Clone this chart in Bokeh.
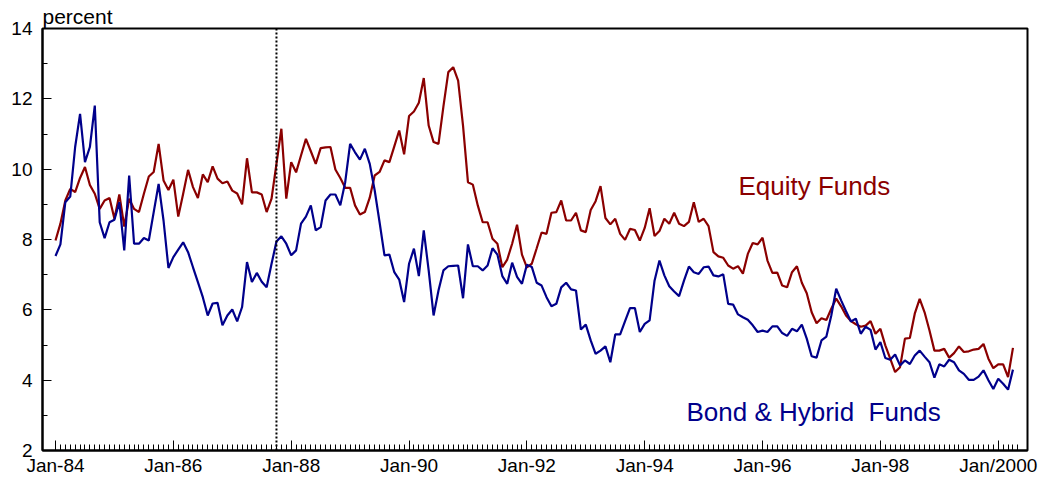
import numpy as np
from bokeh.plotting import figure
from bokeh.models import FixedTicker, Range1d, Span, Label
from bokeh.embed import file_html
from bokeh.resources import INLINE

# Monthly series, Jan-1984 onward (percent)
equity_funds = [
    7.97, 8.45, 9.11, 9.44, 9.35, 9.75, 10.06, 9.55, 9.30, 8.87, 9.11, 9.18,
    8.59, 9.28, 8.37, 9.16, 8.87, 8.78, 9.30, 9.79, 9.92, 10.72, 9.68, 9.41,
    9.70, 8.65, 9.30, 9.98, 9.49, 9.18, 9.85, 9.63, 10.08, 9.73, 9.60, 9.65,
    9.39, 9.31, 9.00, 10.31, 9.34, 9.34, 9.28, 8.78, 9.16, 10.15, 11.15, 9.16,
    10.20, 9.91, 10.39, 10.86, 10.51, 10.15, 10.60, 10.62, 10.63, 9.99, 9.75, 9.47,
    9.47, 8.97, 8.71, 8.78, 9.19, 9.82, 9.92, 10.25, 10.20, 10.65, 11.10, 10.42,
    11.51, 11.64, 11.89, 12.59, 11.24, 10.77, 10.72, 11.78, 12.76, 12.90, 12.52, 11.23,
    9.63, 9.56, 8.97, 8.49, 8.49, 8.02, 7.88, 7.21, 7.43, 7.88, 8.42, 7.57,
    7.21, 7.31, 7.75, 8.20, 8.16, 8.76, 8.78, 9.11, 8.54, 8.54, 8.76, 8.26,
    8.21, 8.84, 9.09, 9.52, 8.61, 8.43, 8.59, 8.16, 7.99, 8.30, 8.27, 7.97,
    8.33, 8.89, 8.10, 8.24, 8.59, 8.45, 8.76, 8.45, 8.38, 8.50, 9.06, 8.50,
    8.59, 8.38, 7.64, 7.52, 7.48, 7.26, 7.17, 7.24, 7.03, 7.59, 7.90, 7.86,
    8.05, 7.40, 7.05, 7.06, 6.69, 6.64, 7.07, 7.24, 6.77, 6.47, 5.93, 5.62,
    5.76, 5.71, 6.03, 6.32, 6.10, 5.84, 5.68, 5.59, 5.52, 5.55, 5.68, 5.32,
    5.46, 4.99, 4.61, 4.23, 4.37, 5.18, 5.20, 5.89, 6.31, 5.93, 5.41, 4.84,
    4.84, 4.89, 4.64, 4.77, 4.96, 4.80, 4.82, 4.87, 4.89, 5.03, 4.61, 4.34,
    4.45, 4.45, 4.09, 4.92,
]

bond_hybrid_funds = [
    7.53, 7.86, 9.06, 9.22, 10.63, 11.57, 10.20, 10.63, 11.81, 8.49, 8.04, 8.49,
    8.56, 9.06, 7.69, 9.82, 7.88, 7.88, 8.04, 7.97, 8.78, 9.58, 8.54, 7.19,
    7.50, 7.71, 7.92, 7.64, 7.21, 6.79, 6.36, 5.84, 6.18, 6.20, 5.56, 5.84,
    6.01, 5.67, 6.08, 7.36, 6.79, 7.05, 6.80, 6.64, 7.31, 7.94, 8.09, 7.88,
    7.55, 7.69, 8.45, 8.65, 8.97, 8.26, 8.35, 9.11, 9.28, 9.28, 8.97, 9.63,
    10.72, 10.48, 10.27, 10.58, 10.15, 9.40, 8.49, 7.55, 7.57, 7.07, 6.86, 6.22,
    7.31, 7.74, 6.96, 8.26, 7.12, 5.84, 6.55, 7.12, 7.24, 7.25, 7.26, 6.33,
    7.86, 7.24, 7.24, 7.12, 7.26, 7.75, 7.57, 6.96, 6.74, 7.34, 6.94, 6.74,
    7.28, 7.22, 6.77, 6.69, 6.36, 6.10, 6.17, 6.64, 6.77, 6.58, 6.55, 5.44,
    5.58, 5.13, 4.75, 4.84, 4.96, 4.51, 5.30, 5.30, 5.68, 6.05, 6.05, 5.37,
    5.60, 5.70, 6.83, 7.40, 6.98, 6.67, 6.52, 6.39, 6.83, 7.23, 7.07, 7.02,
    7.21, 7.23, 6.98, 6.95, 7.01, 6.17, 6.15, 5.87, 5.79, 5.72, 5.56, 5.37,
    5.41, 5.37, 5.53, 5.53, 5.34, 5.26, 5.46, 5.39, 5.58, 5.18, 4.68, 4.64,
    5.13, 5.24, 5.84, 6.60, 6.27, 5.96, 5.67, 5.75, 5.32, 5.52, 5.43, 4.87,
    5.08, 4.63, 4.58, 4.73, 4.42, 4.56, 4.46, 4.70, 4.84, 4.67, 4.51, 4.07,
    4.45, 4.39, 4.58, 4.51, 4.28, 4.18, 4.01, 4.01, 4.10, 4.28, 4.00, 3.75,
    4.04, 3.90, 3.73, 4.30,
]

tick_labels = ["Jan-84", "Jan-86", "Jan-88", "Jan-90", "Jan-92",
               "Jan-94", "Jan-96", "Jan-98", "Jan/2000"]
crash_month = 45          # October 1987, months after Jan-84
y_major = [2, 4, 6, 8, 10, 12, 14]

RED = "#8B0000"
BLUE = "#00008B"
FONT = "Liberation Sans"

months = np.arange(len(equity_funds))
major_ticks = [24 * i for i in range(len(tick_labels))]

p = figure(width=1049, height=478, output_backend="svg", toolbar_location=None,
           x_range=Range1d(-2.65, 197.96), y_range=Range1d(2, 14),
           min_border_left=42, min_border_right=22,
           min_border_top=28, min_border_bottom=28,
           title="percent")
p.background_fill_color = "white"
p.border_fill_color = "white"
p.outline_line_color = "black"
p.outline_line_width = 2
p.grid.visible = False

p.title.text_font = FONT
p.title.text_font_size = "21px"
p.title.text_font_style = "normal"
p.title.text_color = "black"
p.title.align = "left"
p.title.standoff = 2
p.title.offset = 0

# x axis: months, labelled every second January
xa = p.xaxis[0]
xa.ticker = FixedTicker(ticks=major_ticks, minor_ticks=list(range(0, 197)))
xa.major_label_overrides = {t: lab for t, lab in zip(major_ticks, tick_labels)}
xa.major_tick_in = 10
xa.major_tick_out = 0
xa.minor_tick_in = 6
xa.minor_tick_out = 0
xa.axis_line_width = 2
xa.major_label_text_font = FONT
xa.major_label_text_font_size = "19px"
xa.major_label_text_color = "black"
xa.major_label_standoff = 4

ya = p.yaxis[0]
ya.ticker = FixedTicker(ticks=y_major, minor_ticks=[3, 5, 7, 9, 11, 13])
ya.major_tick_in = 9
ya.major_tick_out = 0
ya.minor_tick_in = 5
ya.minor_tick_out = 0
ya.axis_line_width = 2
ya.major_label_text_font = FONT
ya.major_label_text_font_size = "19px"
ya.major_label_text_color = "black"
ya.major_label_standoff = 10

# October 1987 marker
p.add_layout(Span(location=crash_month, dimension="height", line_color="black",
                  line_width=2, line_dash="2 2"))

p.line(months, equity_funds, line_color=RED, line_width=2.2)
p.line(months, bond_hybrid_funds, line_color=BLUE, line_width=2.2)

p.add_layout(Label(x=139.1, y=9.53, text="Equity Funds", text_font=FONT,
                   text_font_size="26px", text_color=RED,
                   text_baseline="alphabetic"))
p.add_layout(Label(x=128.5, y=3.09, text="Bond & Hybrid \u00a0Funds", text_font=FONT,
                   text_font_size="26px", text_color=BLUE,
                   text_baseline="alphabetic"))

open("out.html", "w").write(file_html(p, INLINE))
